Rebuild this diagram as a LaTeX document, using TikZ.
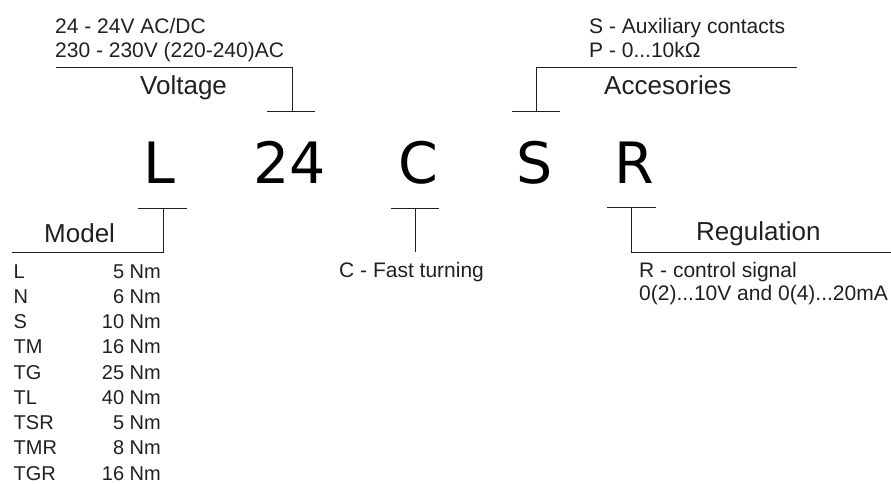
\documentclass[tikz,border=0pt]{standalone}
\usepackage{fontspec}
\setmainfont{Liberation Sans}
\newfontfamily\bigfont{DejaVu Sans}
\definecolor{ink}{RGB}{35,31,32}
\tikzset{
  big/.style={font=\bigfont\fontsize{57}{60}\selectfont, text=black, inner sep=0pt, anchor=base},
  note/.style={font=\fontsize{21}{24}\selectfont, text=ink, inner sep=0pt, anchor=base west},
  lbl/.style={font=\fontsize{26}{28}\selectfont, text=ink, inner sep=0pt, anchor=base west},
  tabl/.style={font=\fontsize{20}{22}\selectfont, text=ink, inner sep=0pt, anchor=base west},
  tabr/.style={font=\fontsize{20}{22}\selectfont, text=ink, inner sep=0pt, anchor=base east},
  mid/.style={font=\fontsize{21}{23}\selectfont, text=ink, inner sep=0pt, anchor=base west},
  wire/.style={draw=ink, line width=1pt}
}
\begin{document}
\begin{tikzpicture}[x=1pt,y=-1pt]
\useasboundingbox (0,0) rectangle (891,483);
% big code letters
\node[big] (cL) at (159,183) {L};
\node[big] (c24) at (290,183) {24};
\node[big] (cC) at (418.5,183) {C};
\node[big] (cS) at (534.5,183) {S};
\node[big] (cR) at (634.5,183) {R};
% voltage
\node[note] (v1) at (55,33) {24 - 24V AC/DC};
\node[note] (v2) at (55,57) {230 - 230V (220-240)AC};
\node[lbl] (vl) at (140,94) {Voltage};
\coordinate (vA) at (56,67);
\coordinate (vB) at (292,67);
\coordinate (vC) at (292,111);
\coordinate (vD) at (267,111);
\coordinate (vE) at (315,111);
\draw[wire] (vA) -- (vB) -- (vC);
\draw[wire] (vD) -- (vE);
% accessories
\node[note] (a1) at (589,33) {S - Auxiliary contacts};
\node[note] (a2) at (589,57) {P - 0...10k\symbol{"03A9}};
\node[lbl] (al) at (604,94) {Accesories};
\coordinate (aA) at (797,67);
\coordinate (aB) at (536,67);
\coordinate (aC) at (536,111);
\coordinate (aD) at (512,111);
\coordinate (aE) at (560,111);
\draw[wire] (aA) -- (aB) -- (aC);
\draw[wire] (aD) -- (aE);
% model
\node[lbl] (ml) at (44,242) {Model};
\coordinate (mA) at (138,208);
\coordinate (mB) at (187,208);
\coordinate (mC) at (163,208);
\coordinate (mD) at (163,252);
\coordinate (mE) at (12,252);
\draw[wire] (mA) -- (mB);
\draw[wire] (mC) -- (mD) -- (mE);
\foreach \n/\t/\i in {L/5 Nm/0, N/6 Nm/1, S/10 Nm/2, TM/16 Nm/3, TG/25 Nm/4, TL/40 Nm/5, TSR/5 Nm/6, TMR/8 Nm/7, TGR/16 Nm/8}{
  \node[tabl] (tn\i) at (13.5,278+25.25*\i) {\n};
  \node[tabr] (tv\i) at (161,278+25.25*\i) {\t};
}
% fast turning
\node[mid] (ft) at (339,277) {C - Fast turning};
\coordinate (fA) at (391,208);
\coordinate (fB) at (439,208);
\coordinate (fC) at (415,208);
\coordinate (fD) at (415,252);
\draw[wire] (fA) -- (fB);
\draw[wire] (fC) -- (fD);
% regulation
\node[lbl] (rl) at (696,240) {Regulation};
\node[mid] (r1) at (639,277) {R - control signal};
\node[mid] (r2) at (639,300) {0(2)...10V and 0(4)...20mA};
\coordinate (rA) at (607,207);
\coordinate (rB) at (656,207);
\coordinate (rC) at (631.5,207);
\coordinate (rD) at (631.5,252);
\coordinate (rE) at (891,252);
\draw[wire] (rA) -- (rB);
\draw[wire] (rC) -- (rD) -- (rE);
\end{tikzpicture}
\end{document}
